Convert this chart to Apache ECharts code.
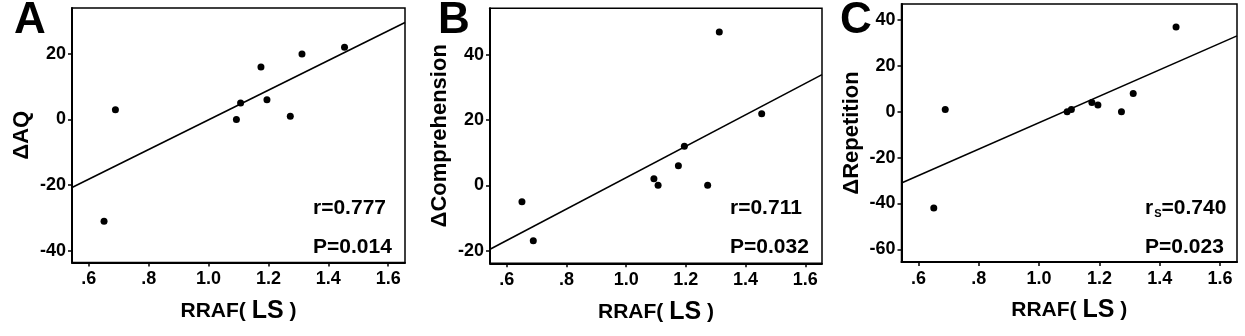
<!DOCTYPE html>
<html>
<head>
<meta charset="utf-8">
<script src="https://cdn.jsdelivr.net/npm/echarts@6/dist/echarts.min.js"></script>
<style>
html, body { margin: 0; padding: 0; background: #fff; }
#chart { width: 1245px; height: 336px; }
</style>
</head>
<body>
<div id="chart"></div>
<script>
// RRAF of the lesion side, same subjects in all three panels
var rraf = [0.651, 0.689, 1.093, 1.107, 1.175, 1.195, 1.273, 1.312, 1.454];
var deltaAQ = [-31, 3, 0, 5, 16, 6, 1, 20, 22];
var deltaComp = [-5, -17, 2, 0, 6, 12, 0, 47, 22];
var deltaRep = [-42, 1, 0, 1, 4, 3, 0, 8, 37];

var xTicks = [0.6, 0.8, 1.0, 1.2, 1.4, 1.6];
var yTicksAQ = [-40, -20, 0, 20];
var yTicksComp = [-20, 0, 20, 40];
var yTicksRep = [-60, -40, -20, 0, 20, 40];

var panelLetters = ['A', 'B', 'C'];
var yNames = ['\u0394AQ', '\u0394Comprehension', '\u0394Repetition'];
var rTexts = ['{a|r=0.777}', '{a|r=0.711}', '{a|r}{s|S}{a|=0.740}'];
var pTexts = ['P=0.014', 'P=0.032', 'P=0.023'];

var FONT = 'Liberation Sans, Arial, sans-serif';
var X_MIN = 0.544, X_MAX = 1.656;

var panels = [
    { ys: deltaAQ, yTicks: yTicksAQ, yMin: -43.6, yMax: 34.0,
      left: 72, top: 8, width: 333, height: 254.5, letterX: 14, textX: 313 },
    { ys: deltaComp, yTicks: yTicksComp, yMin: -23.9, yMax: 54.3,
      left: 490, top: 8.3, width: 332, height: 255, letterX: 438, textX: 730 },
    { ys: deltaRep, yTicks: yTicksRep, yMin: -65.5, yMax: 47.0,
      left: 901.5, top: 4, width: 335.5, height: 258, letterX: 840, textX: 1145 }
];

// least squares line across the x axis range
function fitLine(xs, ys) {
    var n = xs.length, mx = 0, my = 0, sxy = 0, sxx = 0;
    for (var i = 0; i < n; i++) { mx += xs[i] / n; my += ys[i] / n; }
    for (var j = 0; j < n; j++) {
        sxy += (xs[j] - mx) * (ys[j] - my);
        sxx += (xs[j] - mx) * (xs[j] - mx);
    }
    var b = sxy / sxx, a = my - b * mx;
    return [[X_MIN, a + b * X_MIN], [X_MAX, a + b * X_MAX]];
}

function tickFmt(v) {
    var s = v.toFixed(1);
    return v < 1 ? s.slice(1) : s;
}

var grids = [], xAxes = [], yAxes = [], series = [], graphics = [];

panels.forEach(function (p, i) {
    grids.push({
        left: p.left, top: p.top, width: p.width, height: p.height,
        show: true, borderColor: '#000', borderWidth: 1.5,
        containLabel: false, outerBoundsMode: 'none'
    });
    xAxes.push({
        gridIndex: i, type: 'value', min: X_MIN, max: X_MAX,
        axisLine: { show: true, onZero: false, lineStyle: { color: '#000', width: 2 } },
        axisTick: { show: true, length: 4, customValues: xTicks, lineStyle: { color: '#000', width: 1.5 } },
        axisLabel: { customValues: xTicks, formatter: tickFmt, margin: 8,
            color: '#000', fontSize: 18, fontWeight: 'bold', fontFamily: FONT },
        splitLine: { show: false },
        name: '{a|RRAF( }{b|LS}{a| )}',
        nameLocation: 'middle', nameGap: 36,
        nameTextStyle: {
            rich: {
                a: { fontSize: 21, fontWeight: 'bold', fontFamily: FONT, color: '#000' },
                b: { fontSize: 25, fontWeight: 'bold', fontFamily: FONT, color: '#000' }
            }
        }
    });
    yAxes.push({
        gridIndex: i, type: 'value', min: p.yMin, max: p.yMax,
        axisLine: { show: true, onZero: false, lineStyle: { color: '#000', width: 2 } },
        axisTick: { show: true, length: 4, customValues: p.yTicks, lineStyle: { color: '#000', width: 1.5 } },
        axisLabel: { customValues: p.yTicks, margin: 6,
            color: '#000', fontSize: 18, fontWeight: 'bold', fontFamily: FONT },
        splitLine: { show: false },
        name: yNames[i], nameLocation: 'middle', nameGap: 39,
        nameTextStyle: { color: '#000', fontSize: 22, fontWeight: 'bold', fontFamily: FONT }
    });
    series.push({
        type: 'line', xAxisIndex: i, yAxisIndex: i,
        data: fitLine(rraf, p.ys), showSymbol: false, silent: true,
        lineStyle: { color: '#000', width: 1.6 }, z: 2
    });
    series.push({
        type: 'scatter', xAxisIndex: i, yAxisIndex: i,
        data: rraf.map(function (x, k) { return [x, p.ys[k]]; }),
        symbolSize: 7, itemStyle: { color: '#000', opacity: 1 }, z: 3
    });
    graphics.push({
        type: 'text', left: p.letterX, top: -1,
        style: { text: panelLetters[i], fill: '#000', font: 'bold 44px ' + FONT }
    });
    graphics.push({
        type: 'text', left: p.textX, top: 198,
        style: {
            text: rTexts[i],
            rich: {
                a: { fontSize: 21, fontWeight: 'bold', fontFamily: FONT, fill: '#000' },
                s: { fontSize: 11, fontWeight: 'bold', fontFamily: FONT, fill: '#000', verticalAlign: 'bottom', padding: [0, 0, 0, 1] }
            }
        }
    });
    graphics.push({
        type: 'text', left: p.textX, top: 237,
        style: { text: pTexts[i], fill: '#000', font: 'bold 21px ' + FONT }
    });
});

var chart = echarts.init(document.getElementById('chart'));
chart.setOption({
    animation: false,
    backgroundColor: '#fff',
    grid: grids,
    xAxis: xAxes,
    yAxis: yAxes,
    series: series,
    graphic: graphics
});
</script>
</body>
</html>
